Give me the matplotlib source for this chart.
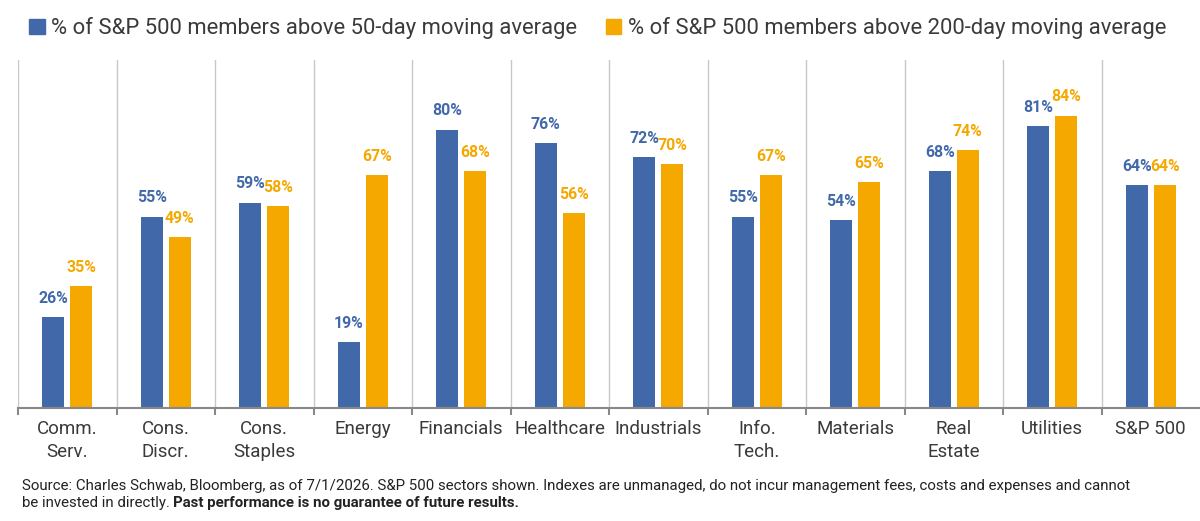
import matplotlib
matplotlib.use("Agg")
import matplotlib.pyplot as plt
from matplotlib.patches import Patch
import numpy as np

categories = ["Comm.\nServ.", "Cons.\nDiscr.", "Cons.\nStaples", "Energy", "Financials",
              "Healthcare", "Industrials", "Info.\nTech.", "Materials", "Real\nEstate",
              "Utilities", "S&P 500"]
above_50d = [26, 55, 59, 19, 80, 76, 72, 55, 54, 68, 81, 64]
above_200d = [35, 49, 58, 67, 68, 56, 70, 67, 65, 74, 84, 64]
series_names = ["% of S&P 500 members above 50-day moving average",
                "% of S&P 500 members above 200-day moving average"]

BLUE = "#4169aa"
ORANGE = "#f5a800"
TEXT = "#3a3a3a"
GRID = "#c8c8c8"

plt.rcParams["font.family"] = ["Roboto", "DejaVu Sans"]

fig = plt.figure(figsize=(12, 5.21), dpi=100)
ax = fig.add_axes([0.015, 0.217, 0.985, 0.668])

x = np.arange(len(categories))
w = 0.225; off = 0.143
b1 = ax.bar(x - off, above_50d, w, color=BLUE)
b2 = ax.bar(x + off, above_200d, w, color=ORANGE)

# value labels above each bar, same colour as the bar
for bars, vals, col in ((b1, above_50d, BLUE), (b2, above_200d, ORANGE)):
    for r, v in zip(bars, vals):
        ax.annotate(f"{v}%", (r.get_x() + r.get_width() / 2, v), xytext=(0, 8),
                    textcoords="offset points", ha="center", va="bottom",
                    color=col, fontsize=11.4, fontweight="bold")

ax.set_xlim(-0.5, len(categories) - 0.5)
ax.set_ylim(0, 100)
for b in np.arange(len(categories)) - 0.5:
    ax.axvline(b, color=GRID, lw=1, zorder=0)

for s in ("top", "right", "left"):
    ax.spines[s].set_visible(False)
ax.spines["bottom"].set_color("#888888")
ax.spines["bottom"].set_linewidth(1.5)
ax.set_yticks([])
ax.set_xticks(np.arange(len(categories)) - 0.5, minor=True)
ax.tick_params(axis="x", which="minor", length=5, color="#888888", width=1.5)
ax.set_xticks(x)
ax.set_xticklabels(categories, fontsize=13.5, color=TEXT, linespacing=1.3)
ax.tick_params(axis="x", which="major", length=0, pad=9)

handles = [Patch(color=BLUE), Patch(color=ORANGE)]
fig.legend(handles, series_names, loc="upper left", bbox_to_anchor=(0.008, 1.005),
           ncol=2, frameon=False, fontsize=15.8, labelcolor=TEXT,
           handlelength=0.7, handleheight=0.7, handletextpad=0.3, columnspacing=1.3)

fig.text(0.018, 0.068, "Source: Charles Schwab, Bloomberg, as of 7/1/2026. S&P 500 sectors shown. "
         "Indexes are unmanaged, do not incur management fees, costs and expenses and cannot",
         fontsize=10.8, color="#222222", va="center")
t2 = fig.text(0.018, 0.035, "be invested in directly. ", fontsize=10.8, color="#222222", va="center")
ax.annotate("Past performance is no guarantee of future results.", xy=(1, 0.5), xycoords=t2,
            va="center", ha="left", fontsize=10.8, color="#222222", fontweight="bold",
            annotation_clip=False)

fig.savefig("out.png", dpi=100)
